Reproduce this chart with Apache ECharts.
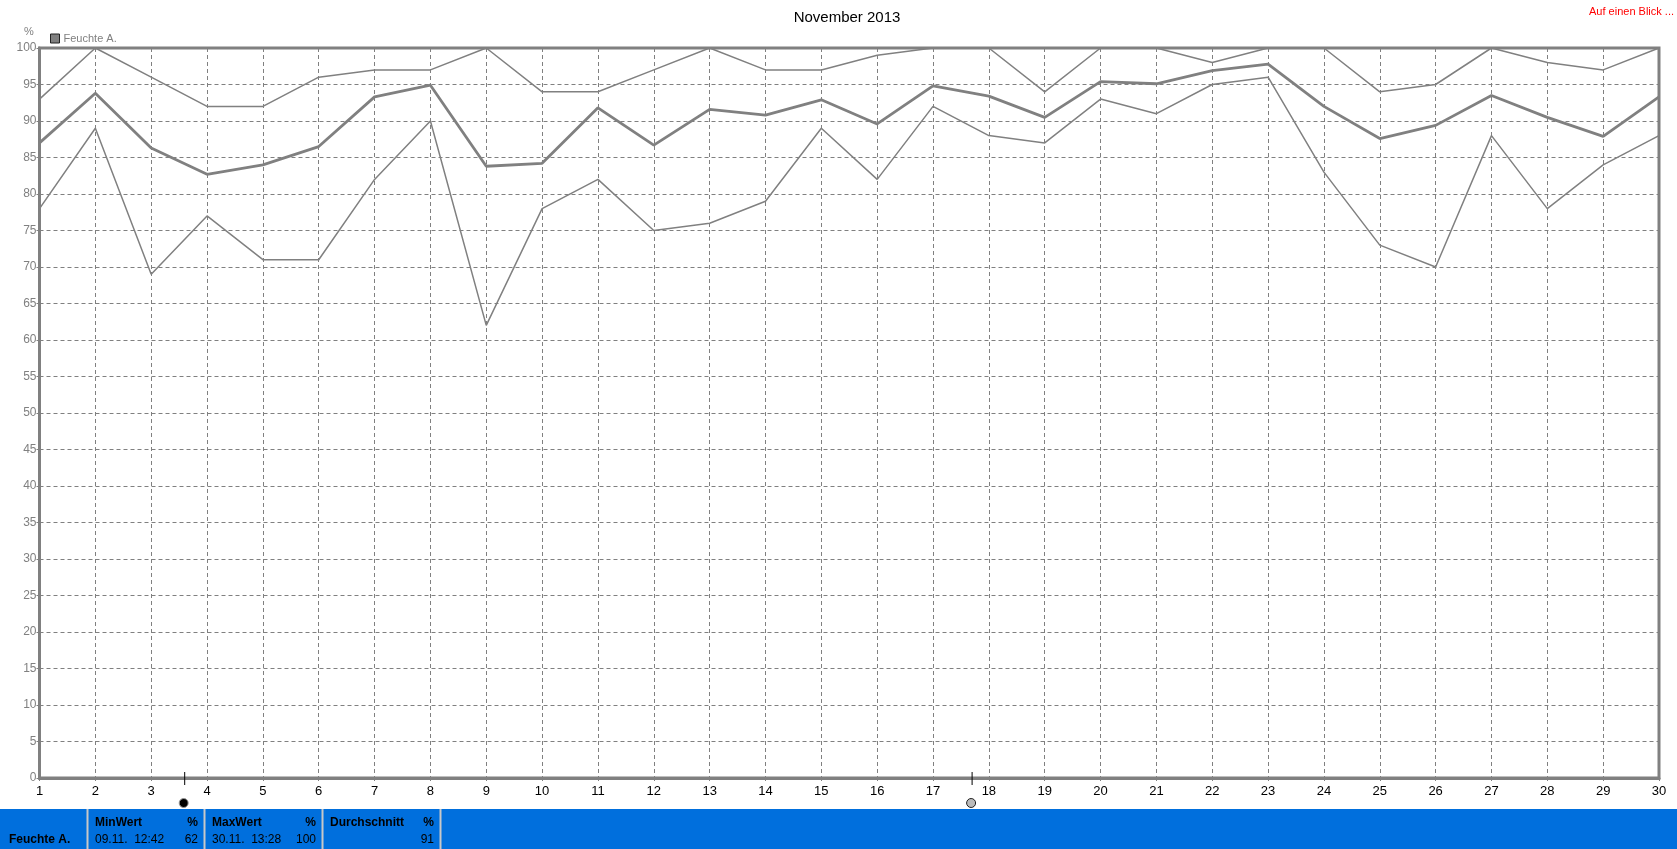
<!DOCTYPE html>
<html>
<head>
<meta charset="utf-8">
<script src="https://cdn.jsdelivr.net/npm/echarts@6/dist/echarts.min.js"></script>
<style>
html,body{margin:0;padding:0;background:#fff;}
#c{width:1677px;height:849px;}
</style>
</head>
<body>
<div id="c"></div>
<script>
// Data (November 2013, relative humidity "Feuchte A.")
const days = [1,2,3,4,5,6,7,8,9,10,11,12,13,14,15,16,17,18,19,20,21,22,23,24,25,26,27,28,29,30];
const maxValues = [93,100,96,92,92,96,97,97,100,94,94,97,100,97,97,99,100,100,94,100,100,98,100,100,94,95,100,98,97,100];
const avgValues = [87.0,93.8,86.3,82.7,84.0,86.5,93.3,94.9,83.8,84.2,91.8,86.7,91.6,90.8,92.9,89.6,94.8,93.4,90.5,95.4,95.1,96.9,97.8,92.0,87.6,89.4,93.5,90.5,87.9,93.3];
const minValues = [78,89,69,77,71,71,82,90,62,78,82,75,76,79,89,82,92,88,87,93,91,95,96,83,73,70,88,78,84,88];
const yTicks = {min: 0, max: 100, interval: 5};
const markerDays = [3.6, 17.7];
const titleText = 'November 2013';
const seriesName = 'Feuchte A.';
const summaryHeaders = ['MinWert', 'MaxWert', 'Durchschnitt'];
const summaryTimes = ['09.11.  12:42', '30.11.  13:28', ''];
const summaryValues = ['62', '100', '91'];

const toPairs = arr => days.map((d, i) => [d, arr[i]]);
const FONT = '"Liberation Sans", Arial, sans-serif';
const GRAY = '#808080';

const chart = echarts.init(document.getElementById('c'), null, {renderer: 'canvas'});

const lineSeries = (data, w) => ({
  name: seriesName, type: 'line', data: toPairs(data), symbol: 'none',
  lineStyle: {color: GRAY, width: w}, itemStyle: {color: GRAY}, z: 3, animation: false
});

// bottom summary bar graphics
const barY = 809, barH = 40;
const cells = [[0, 87], [89, 204], [206, 322], [324, 440]];
const bar = [
  {type: 'rect', shape: {x: 0, y: barY, width: 1677, height: barH}, style: {fill: '#006FDD'}, z: 10}
];
[87.5, 204.5, 322.5, 440.5].forEach(x => bar.push({type: 'rect', shape: {x: x - 1, y: barY, width: 2, height: barH}, style: {fill: '#C8C8C8'}, z: 11}));
bar.push({type: 'text', x: 9, y: 840, style: {text: seriesName, font: 'bold 12px ' + FONT, fill: '#000', textVerticalAlign: 'middle'}, z: 12});
summaryHeaders.forEach((h, i) => {
  const c = cells[i + 1];
  bar.push({type: 'text', x: c[0] + 6, y: 823, style: {text: h, font: 'bold 12px ' + FONT, fill: '#000', textVerticalAlign: 'middle'}, z: 12});
  bar.push({type: 'text', x: c[1] - 6, y: 823, style: {text: '%', font: 'bold 12px ' + FONT, fill: '#000', textAlign: 'right', textVerticalAlign: 'middle'}, z: 12});
  if (summaryTimes[i]) bar.push({type: 'text', x: c[0] + 6, y: 840, style: {text: summaryTimes[i], font: '12px ' + FONT, fill: '#000', textVerticalAlign: 'middle'}, z: 12});
  bar.push({type: 'text', x: c[1] - 6, y: 840, style: {text: summaryValues[i], font: '12px ' + FONT, fill: '#000', textAlign: 'right', textVerticalAlign: 'middle'}, z: 12});
});

chart.setOption({
  animation: false,
  backgroundColor: '#fff',
  title: {text: titleText, left: 842, top: 5, textAlign: 'center',
    textStyle: {fontFamily: FONT, fontSize: 15, fontWeight: 'normal', color: '#000'}},
  legend: {data: [seriesName], left: 45, top: 28, icon: 'rect', itemWidth: 9, itemHeight: 9, itemGap: 4,
    itemStyle: {color: GRAY, borderColor: '#222', borderWidth: 1},
    textStyle: {fontFamily: FONT, fontSize: 11, color: GRAY, padding: [0, 0, 0, -1]}},
  grid: {left: 39.5, right: 18, top: 48, bottom: 71, show: true, borderColor: GRAY, borderWidth: 3, containLabel: false},
  xAxis: {type: 'value', min: 1, max: 30, interval: 1,
    axisLine: {show: true, lineStyle: {color: GRAY, width: 3}},
    axisTick: {show: true, length: 3, lineStyle: {color: GRAY}},
    axisLabel: {color: '#000', fontFamily: FONT, fontSize: 13, margin: 7},
    splitLine: {show: true, lineStyle: {color: GRAY, type: [4, 3], width: 1}}},
  yAxis: {type: 'value', min: yTicks.min, max: yTicks.max, interval: yTicks.interval,
    axisLine: {show: true, lineStyle: {color: GRAY, width: 3}},
    axisTick: {show: true, length: 3, lineStyle: {color: GRAY}},
    axisLabel: {color: GRAY, fontFamily: FONT, fontSize: 12, margin: 3},
    splitLine: {show: true, lineStyle: {color: GRAY, type: [4, 3], width: 1}}},
  series: [lineSeries(maxValues, 1.5), lineSeries(avgValues, 2.8), lineSeries(minValues, 1.5)],
  graphic: []
});

const gr = bar.slice();
gr.push({type: 'text', x: 24, y: 32, style: {text: '%', font: '11px ' + FONT, fill: GRAY, textVerticalAlign: 'middle'}, z: 12});
gr.push({type: 'text', x: 1674, y: 12, style: {text: 'Auf einen Blick ...', font: '11px ' + FONT, fill: '#FF0000', textAlign: 'right', textVerticalAlign: 'middle'}, z: 12});
markerDays.forEach((d, i) => {
  const p = chart.convertToPixel({gridIndex: 0}, [d, 0]);
  gr.push({type: 'line', shape: {x1: p[0], y1: p[1] - 6, x2: p[0], y2: p[1] + 7}, style: {stroke: '#000', lineWidth: 1}, z: 12});
  gr.push({type: 'circle', shape: {cx: p[0] - 1, cy: 803, r: 4.5},
    style: i === 0 ? {fill: '#000', stroke: '#999', lineWidth: 1} : {fill: '#BBBBBB', stroke: '#222', lineWidth: 1}, z: 12});
});
chart.setOption({graphic: gr});
</script>
</body>
</html>
